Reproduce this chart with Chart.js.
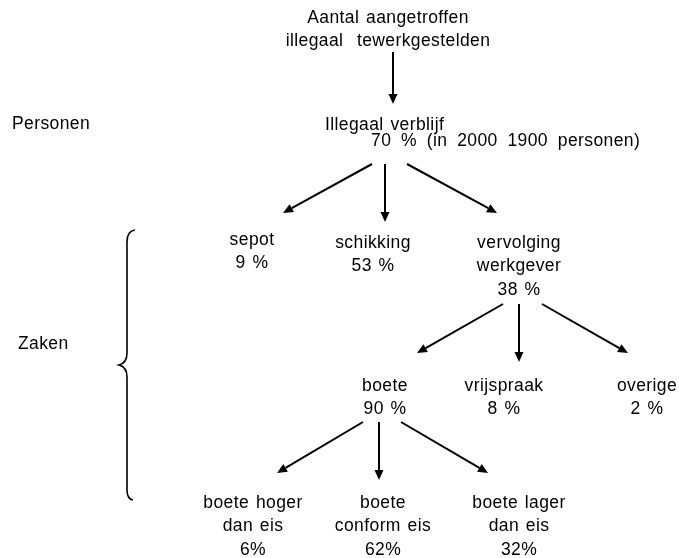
<!DOCTYPE html>
<html>
<head>
<meta charset="utf-8">
<script src="https://cdn.jsdelivr.net/npm/chart.js@4"></script>
<style>
  html, body { margin: 0; padding: 0; background: #fff; }
  #wrap { width: 679px; height: 558px; }
</style>
</head>
<body>
<div id="wrap"><canvas id="flowChart" width="679" height="558"></canvas></div>
<script>
// Text blocks of the diagram (one entry per block, lines split by \n)
const labels = [
  "Aantal aangetroffen\nillegaal  tewerkgestelden",
  "Personen",
  "Illegaal verblijf",
  "70 % (in 2000 1900 personen)",
  "sepot\n9 %",
  "schikking\n53 %",
  "vervolging\nwerkgever\n38 %",
  "Zaken",
  "boete\n90 %",
  "vrijspraak\n8 %",
  "overige\n2 %",
  "boete hoger\ndan eis\n6%",
  "boete\nconform eis\n62%",
  "boete lager\ndan eis\n32%"
];

// Anchor of each block in diagram units (x, y of first line)
const labelX = [388, 12, 325, 371, 252, 373, 519, 18, 385, 504, 647, 253, 383, 519];
const labelY = [18, 124, 125, 141, 240, 243, 243, 344, 386, 386, 386, 503, 503, 503];
const labelAlign = ["center", "left", "left", "left", "center", "center", "center", "left",
  "center", "center", "center", "center", "center", "center"];
// The "70 %" line is set with wider word gaps in the original
const labelWordGap = [1.5, 1.5, 1.5, 4.5, 1.5, 1.5, 1.5, 1.5, 1.5, 1.5, 1.5, 1.5, 1.5, 1.5];

// Arrows: start and end points in diagram units
const arrowX0 = [393, 372, 385, 407, 503, 519, 542, 363, 379, 401];
const arrowY0 = [52, 164, 164, 164, 304, 304, 304, 422, 422, 422];
const arrowX1 = [393, 283, 385, 497, 417, 519, 628, 277, 379, 488];
const arrowY1 = [104, 213, 222, 213, 353, 362, 353, 473, 480, 473];

// Curly brace grouping the "Zaken" levels
const braceX = 127;
const braceTop = 230;
const braceMid = 365;
const braceBottom = 500;

/**
 * Plugin that draws the flow diagram through the chart scales
 */
const diagramPlugin = {
  id: "diagram",
  afterDraw(chart) {
    const ctx = chart.ctx;
    const sx = chart.scales.x;
    const sy = chart.scales.y;
    const px = (v) => sx.getPixelForValue(v);
    const py = (v) => sy.getPixelForValue(v);

    ctx.save();
    ctx.fillStyle = "#000";
    ctx.strokeStyle = "#000";

    // Text blocks
    ctx.font = "17.5px 'Liberation Sans', Arial, sans-serif";
    ctx.letterSpacing = "0.4px";
    ctx.textBaseline = "middle";
    labels.forEach((text, i) => {
      ctx.textAlign = labelAlign[i];
      ctx.wordSpacing = labelWordGap[i] + "px";
      text.split("\n").forEach((line, j) => {
        ctx.fillText(line, px(labelX[i]), py(labelY[i]) + j * 23.5);
      });
    });

    // Arrows
    ctx.lineWidth = 2;
    arrowX0.forEach((x0, i) => {
      const x1 = px(arrowX1[i]);
      const y1 = py(arrowY1[i]);
      const xa = px(x0);
      const ya = py(arrowY0[i]);
      const ang = Math.atan2(y1 - ya, x1 - xa);
      const head = 10;
      const half = 4.5;
      const bx = x1 - head * Math.cos(ang);
      const by = y1 - head * Math.sin(ang);
      ctx.beginPath();
      ctx.moveTo(xa, ya);
      ctx.lineTo(bx, by);
      ctx.stroke();
      ctx.beginPath();
      ctx.moveTo(x1, y1);
      ctx.lineTo(bx + half * Math.sin(ang), by - half * Math.cos(ang));
      ctx.lineTo(bx - half * Math.sin(ang), by + half * Math.cos(ang));
      ctx.closePath();
      ctx.fill();
    });

    // Brace
    const bx = px(braceX);
    const top = py(braceTop);
    const mid = py(braceMid);
    const bot = py(braceBottom);
    ctx.lineWidth = 1.6;
    ctx.beginPath();
    ctx.moveTo(bx + 8, top);
    ctx.quadraticCurveTo(bx, top + 1, bx, top + 12);
    ctx.lineTo(bx, mid - 12);
    ctx.quadraticCurveTo(bx, mid - 2, bx - 8, mid);
    ctx.quadraticCurveTo(bx, mid + 2, bx, mid + 12);
    ctx.lineTo(bx, bot - 10);
    ctx.quadraticCurveTo(bx, bot - 1, bx + 6, bot);
    ctx.stroke();

    ctx.restore();
  }
};

const chart = new Chart(document.getElementById("flowChart"), {
  type: "scatter",
  data: { datasets: [{ data: [], pointRadius: 0 }] },
  options: {
    responsive: false,
    animation: false,
    layout: { padding: 0 },
    plugins: { legend: { display: false }, tooltip: { enabled: false } },
    scales: {
      x: { type: "linear", min: 0, max: 679, display: false },
      y: { type: "linear", min: 0, max: 558, reverse: true, display: false }
    }
  },
  plugins: [diagramPlugin]
});
</script>
</body>
</html>
